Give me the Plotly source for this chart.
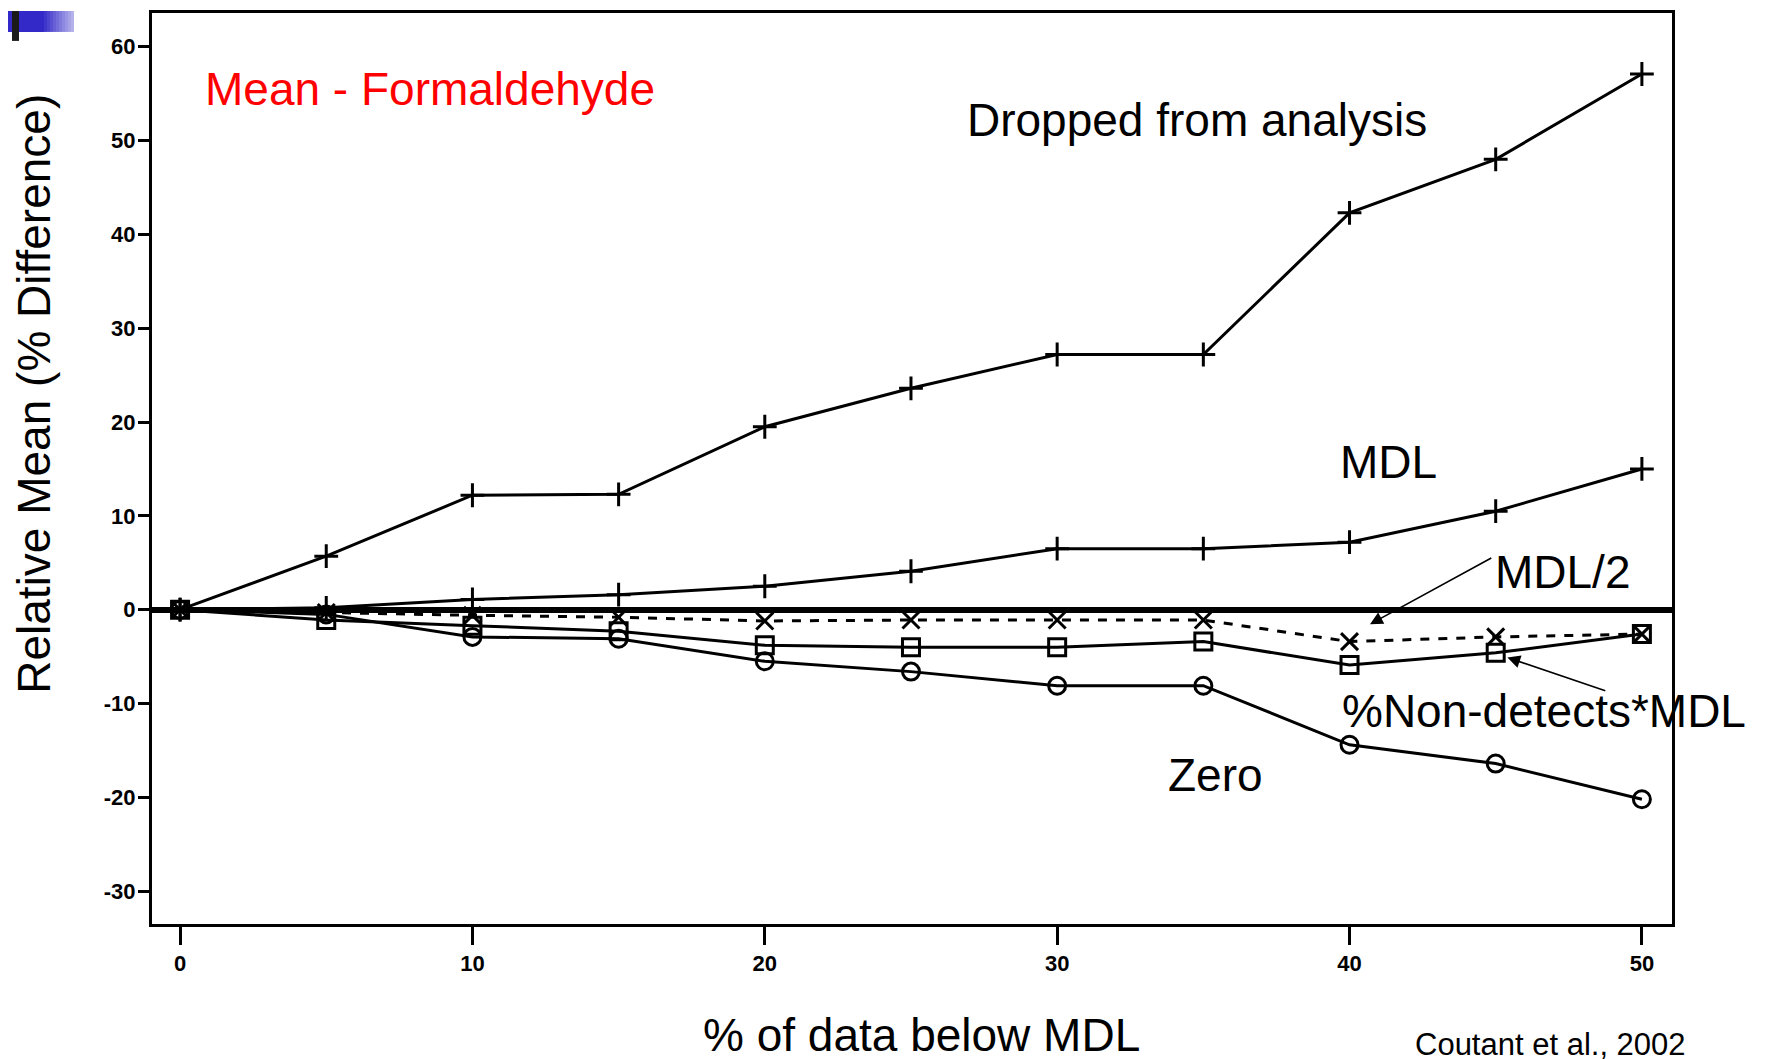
import plotly.graph_objects as go

x_pct = [0, 5, 10, 15, 20, 25, 30, 35, 40, 45, 50]
dropped = [0, 5.7, 12.2, 12.3, 19.5, 23.6, 27.2, 27.2, 42.3, 48.0, 57.1]
mdl = [0, 0.2, 1.1, 1.6, 2.5, 4.1, 6.5, 6.5, 7.2, 10.5, 15.0]
mdl_half = [0, -0.3, -0.6, -0.8, -1.2, -1.1, -1.1, -1.1, -3.4, -2.9, -2.6]
nd_mdl = [0, -1.1, -1.7, -2.3, -3.8, -4.0, -4.0, -3.4, -5.9, -4.6, -2.6]
zero = [0, -0.5, -2.9, -3.1, -5.5, -6.6, -8.1, -8.1, -14.4, -16.4, -20.2]

x_ticks = [0, 10, 20, 30, 40, 50]
y_ticks = [60, 50, 40, 30, 20, 10, 0, -10, -20, -30]

FONT = "Liberation Sans, Arial, sans-serif"

fig = go.Figure()

def add(y, symbol, dash="solid", name=""):
    fig.add_trace(go.Scatter(
        x=x_pct, y=y, mode="lines+markers", name=name,
        line=dict(color="black", width=3, dash=dash),
        marker=dict(symbol=symbol, size=17, color="black",
                    line=dict(color="black", width=3)),
        showlegend=False, cliponaxis=False,
    ))

add(dropped, "cross-thin-open", name="Dropped")
add(mdl, "cross-thin-open", name="MDL")
add(mdl_half, "x-thin-open", dash="dash", name="MDL/2")
add(nd_mdl, "square-open", name="%Non-detects*MDL")
add(zero, "circle-open", name="Zero")

fig.update_xaxes(
    range=[-0.96, 51.03], tickvals=x_ticks, ticktext=[str(v) for v in x_ticks],
    showline=True, linecolor="black", linewidth=3, mirror=True,
    ticks="outside", ticklen=18, tickwidth=3, tickcolor="black",
    showgrid=False, zeroline=False,
    tickfont=dict(family=FONT, size=22, color="black", weight="bold"),
)
fig.update_yaxes(
    range=[-33.5, 63.6], tickvals=y_ticks, ticktext=[str(v) for v in y_ticks],
    showline=True, linecolor="black", linewidth=3, mirror=True,
    ticks="outside", ticklen=11, tickwidth=3, tickcolor="black",
    ticklabelstandoff=-2,
    showgrid=False, zeroline=True, zerolinecolor="black", zerolinewidth=6,
    tickfont=dict(family=FONT, size=22, color="black", weight="bold"),
)

def txt(x, y, s, size=46, color="black", xanchor="center"):
    fig.add_annotation(x=x, y=y, xref="x", yref="y", text=s, showarrow=False,
                       xanchor=xanchor, yanchor="middle",
                       font=dict(family=FONT, size=size, color=color))

txt(0.79, 55.5, "Mean - Formaldehyde", color="#ff0000", xanchor="left")
txt(34.8, 52.2, "Dropped from analysis")
txt(41.35, 15.7, "MDL")
txt(47.3, 4.0, "MDL/2")
txt(46.65, -10.8, "%Non-detects*MDL")
txt(35.4, -17.6, "Zero")

def arrow(x, y, ax, ay):
    fig.add_annotation(x=x, y=y, ax=ax, ay=ay, xref="x", yref="y", axref="x", ayref="y",
                       text="", showarrow=True, arrowhead=2, arrowsize=1.6,
                       arrowwidth=1.6, arrowcolor="black", standoff=0)

arrow(40.7, -1.55, 44.9, 5.6)
arrow(45.4, -5.1, 48.8, -8.7)

# plot area in page pixels (page has an 8px body margin)
OFF = 8
L, R, T, B = 152, 1672, 10, 924
W, H = R - L, B - T
def px(xp):
    return (xp - L) / W
def py(yp):
    return (B - yp) / H

fig.add_annotation(x=px(1688), y=py(1045), xref="paper", yref="paper",
                   text="Coutant et al., 2002", showarrow=False, xanchor="right", yanchor="middle",
                   font=dict(family=FONT, size=31, color="black"))
fig.add_annotation(x=px(921), y=py(1035), xref="paper", yref="paper",
                   text="% of data below MDL", showarrow=False, xanchor="center", yanchor="middle",
                   font=dict(family=FONT, size=46, color="black"))
fig.add_annotation(x=px(34), y=py(392), xref="paper", yref="paper",
                   text="Relative Mean (% Difference)", showarrow=False, textangle=-90,
                   xanchor="center", yanchor="middle",
                   font=dict(family=FONT, size=46, color="black"))

# top-left decoration
shapes = []
shapes.append(dict(type="rect", xref="paper", yref="paper", x0=px(OFF), x1=px(44), y0=py(29), y1=py(OFF),
                   fillcolor="#3329c8", line=dict(width=0), layer="above"))
steps = 10
for i in range(steps):
    x0 = 44 + i * 3
    frac = (i + 1) / (steps + 1)
    r = int(0x33 + (255 - 0x33) * frac * 0.7)
    g = int(0x29 + (255 - 0x29) * frac * 0.7)
    b = int(0xc8 + (255 - 0xc8) * frac * 0.7)
    shapes.append(dict(type="rect", xref="paper", yref="paper", x0=px(x0), x1=px(x0 + 3), y0=py(29), y1=py(OFF),
                       fillcolor=f"rgb({r},{g},{b})", line=dict(width=0), layer="above"))
shapes.append(dict(type="rect", xref="paper", yref="paper", x0=px(12), x1=px(19), y0=py(38), y1=py(OFF),
                   fillcolor="#1a1a1a", line=dict(width=0), layer="above"))
fig.update_layout(shapes=shapes)

fig.update_layout(
    width=1767, height=1059,
    margin=dict(l=L - OFF, r=1767 - (R - OFF), t=T - OFF, b=1059 - (B - OFF)),
    paper_bgcolor="white", plot_bgcolor="white",
    font=dict(family=FONT, color="black"),
)

fig.write_html("out.html")
